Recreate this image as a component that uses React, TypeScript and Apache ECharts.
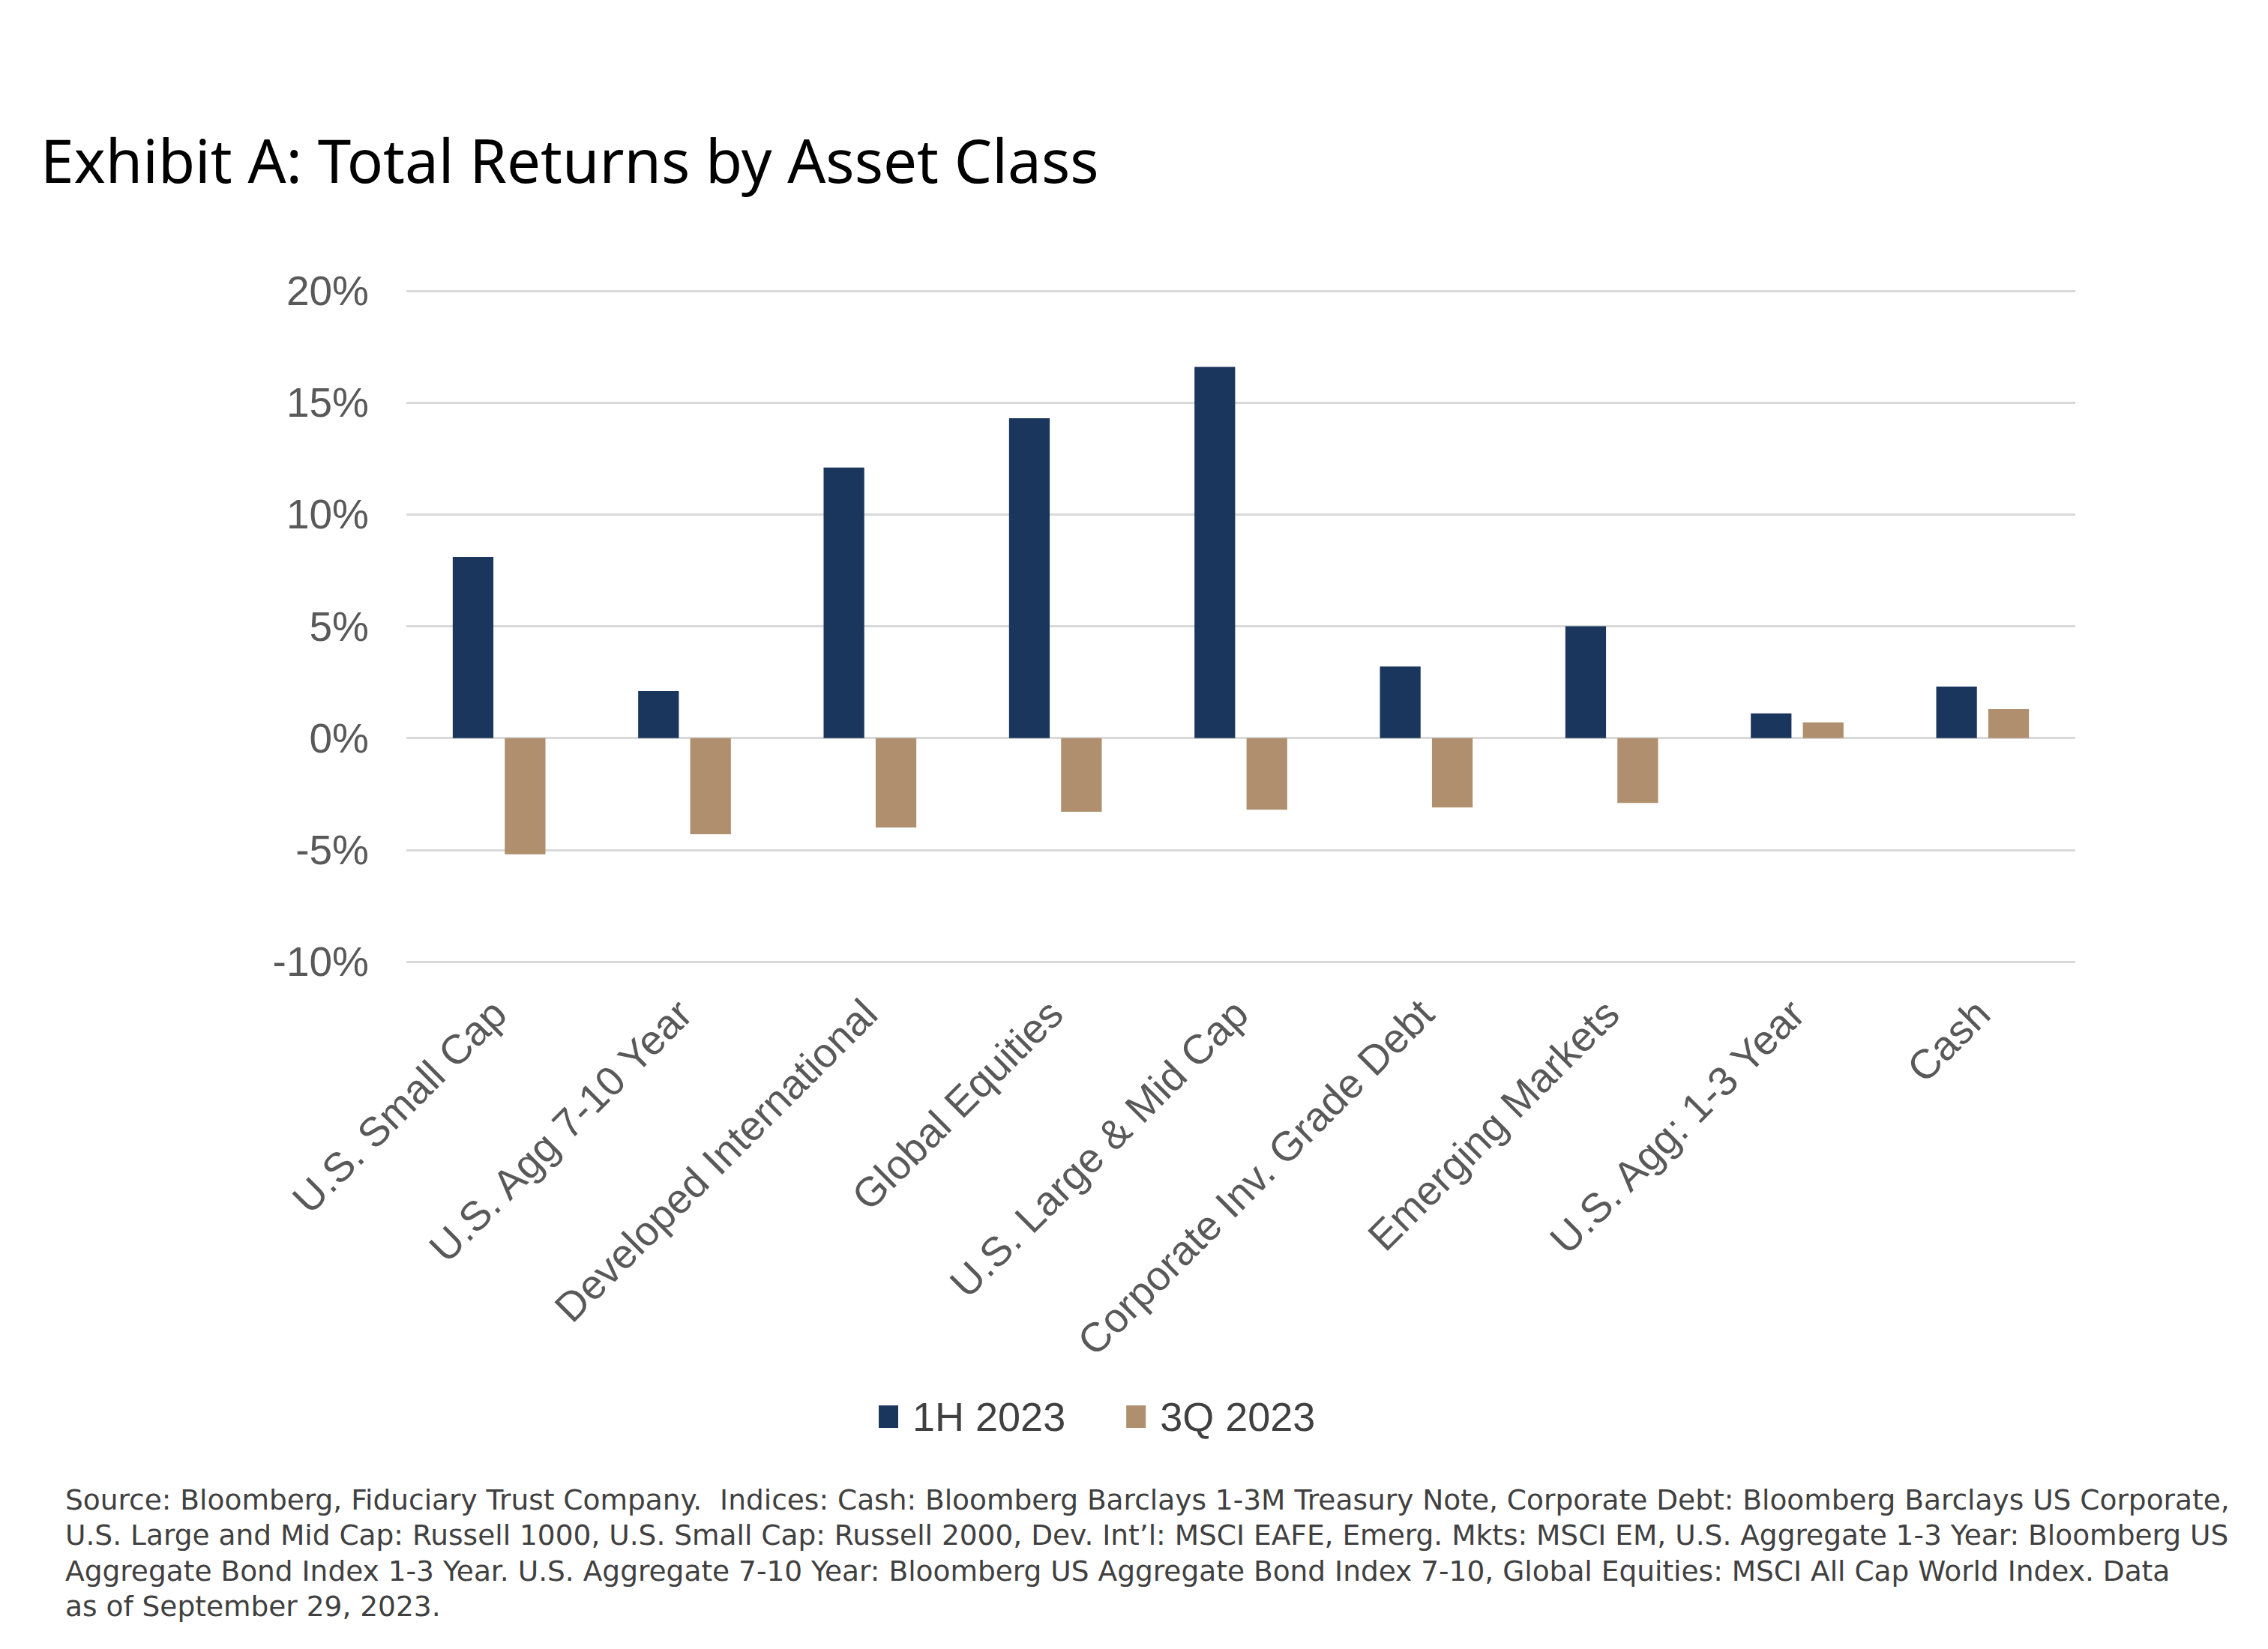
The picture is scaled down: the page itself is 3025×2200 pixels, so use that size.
import React, { useEffect, useRef } from "react";
import * as echarts from "echarts";

const titleText = "Exhibit A: Total Returns by Asset Class";
const categories = [
  "U.S. Small Cap",
  "U.S. Agg 7-10 Year",
  "Developed International",
  "Global Equities",
  "U.S. Large & Mid Cap",
  "Corporate Inv. Grade Debt",
  "Emerging Markets",
  "U.S. Agg: 1-3 Year",
  "Cash",
];
const seriesNames = ["1H 2023", "3Q 2023"];
const h1_2023 = [8.1, 2.1, 12.1, 14.3, 16.6, 3.2, 5.0, 1.1, 2.3];
const q3_2023 = [-5.2, -4.3, -4.0, -3.3, -3.2, -3.1, -2.9, 0.7, 1.3];
const yMin = -10;
const yMax = 20;
const yStep = 5;
const footnoteLines = [
  "Source: Bloomberg, Fiduciary Trust Company.  Indices: Cash: Bloomberg Barclays 1-3M Treasury Note, Corporate Debt: Bloomberg Barclays US Corporate,",
  "U.S. Large and Mid Cap: Russell 1000, U.S. Small Cap: Russell 2000, Dev. Int\u2019l: MSCI EAFE, Emerg. Mkts: MSCI EM, U.S. Aggregate 1-3 Year: Bloomberg US",
  "Aggregate Bond Index 1-3 Year. U.S. Aggregate 7-10 Year: Bloomberg US Aggregate Bond Index 7-10, Global Equities: MSCI All Cap World Index. Data",
  "as of September 29, 2023.",
];

const NAVY = "#1B365D";
const TAN = "#AF8F6D";

export default function App() {
  const ref = useRef<HTMLDivElement>(null);
  useEffect(() => {
    document.body.style.margin = "0";
    const chart = echarts.init(ref.current!, null, { renderer: "svg" });
    chart.setOption({
      animation: false,
      backgroundColor: "#ffffff",
      graphic: [
        {
          type: "text",
          left: 54,
          top: 172,
          style: {
            text: titleText,
            font: "400 80px 'Noto Sans', sans-serif",
            fill: "#000000",
          },
        },
        {
          type: "text",
          left: 87,
          top: 1977,
          style: {
            text: footnoteLines.join("\n"),
            font: "400 37.5px 'DejaVu Sans', sans-serif",
            lineHeight: 47.5,
            fill: "#404040",
          },
        },
      ],
      legend: {
        data: seriesNames,
        left: 1167,
        top: 1858,
        icon: "rect",
        itemWidth: 26,
        itemHeight: 30,
        itemGap: 81,
        textStyle: {
          fontFamily: "'Liberation Sans', Arial, sans-serif",
          fontSize: 54,
          color: "#404040",
          padding: [0, 0, 0, 14],
        },
      },
      grid: {
        left: 542,
        right: 257,
        top: 388,
        bottom: 917,
        containLabel: false,
      },
      xAxis: {
        type: "category",
        data: categories,
        axisLine: { show: false, onZero: false },
        axisTick: { show: false },
        axisLabel: {
          rotate: 45,
          interval: 0,
          margin: 60,
          fontFamily: "'Liberation Sans', Arial, sans-serif",
          fontSize: 55,
          color: "#595959",
        },
      },
      yAxis: {
        type: "value",
        min: yMin,
        max: yMax,
        interval: yStep,
        axisLine: { show: false },
        axisTick: { show: false },
        splitLine: { lineStyle: { color: "#D9D9D9", width: 3 } },
        axisLabel: {
          formatter: (v: number) => `${v}%`,
          margin: 50,
          fontFamily: "'Liberation Sans', Arial, sans-serif",
          fontSize: 55,
          color: "#595959",
        },
      },
      series: [
        {
          name: seriesNames[0],
          type: "bar",
          data: h1_2023,
          itemStyle: { color: NAVY },
          barGap: "28%",
          barCategoryGap: "50%",
        },
        {
          name: seriesNames[1],
          type: "bar",
          data: q3_2023,
          itemStyle: { color: TAN },
          barGap: "28%",
          barCategoryGap: "50%",
        },
      ],
    });
    return () => chart.dispose();
  }, []);
  return <div ref={ref} style={{ width: 3025, height: 2200 }} />;
}
